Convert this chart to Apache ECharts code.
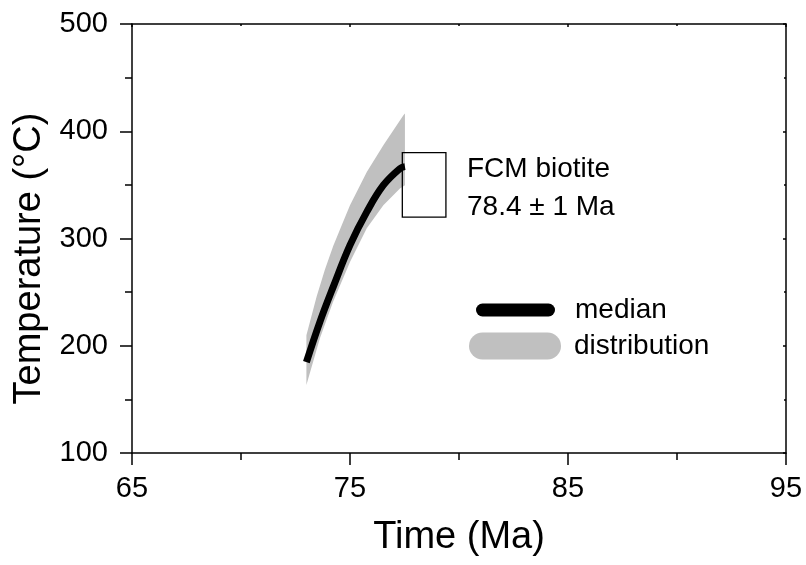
<!DOCTYPE html>
<html><head><meta charset="utf-8">
<script src="https://cdn.jsdelivr.net/npm/echarts@6/dist/echarts.min.js"></script>
<style>html,body{margin:0;padding:0;background:#fff}#c{width:806px;height:565px}</style>
</head><body><div id="c"></div>
<script>
// ---- data ----
const xTickValues = [65, 75, 85, 95];
const yTickValues = [100, 200, 300, 400, 500];

// upper edge of the distribution band
const upperTime = [73.0, 73.47, 73.85, 74.23, 74.62, 75.0, 75.77, 76.53, 77.45, 77.52];
const upperTemp = [209.9, 246.0, 271.0, 293.0, 312.4, 331.0, 362.1, 387.0, 414.9, 416.5];
// lower edge of the distribution band
const lowerTime = [73.0, 73.62, 74.22, 75.0, 75.77, 76.53, 77.29, 77.52];
const lowerTemp = [163.3, 207.1, 240.9, 278.2, 309.6, 331.0, 346.6, 349.7];
// median path
const medianTime = [73.0, 73.62, 74.23, 75.0, 75.77, 76.53, 77.29, 77.52];
const medianTemp = [184.7, 222.3, 254.9, 293.8, 324.8, 349.7, 365.2, 367.0];
// FCM biotite constraint box: [tMin, tMax, TMin, TMax]
const boxConstraint = [77.4, 79.4, 320, 380];
const boxText = ['FCM biotite', '78.4 \u00b1 1 Ma'];

const FONT = 'Liberation Sans, Arial, Helvetica, sans-serif';

const bandData = upperTime.map((t, i) => [t, upperTemp[i]])
  .concat(lowerTime.map((t, i) => [t, lowerTemp[i]]).reverse());
const medianData = medianTime.map((t, i) => [t, medianTemp[i]]);

const chart = echarts.init(document.getElementById('c'), null, {renderer: 'canvas'});

const medianIcon = 'path://M6.5,0 L72.5,0 A6.5,6.5 0 0 1 72.5,13 L6.5,13 A6.5,6.5 0 0 1 6.5,0 Z';
const distIcon = 'path://M13.5,0 L78.5,0 A13.5,13.5 0 0 1 78.5,27 L13.5,27 A13.5,13.5 0 0 1 13.5,0 Z';

const axisLineStyle = {color: '#000', width: 1.5};

const option = {
  animation: false,
  backgroundColor: '#fff',
  grid: {left: 132, top: 24, width: 654, height: 429, containLabel: false},
  xAxis: [{
    type: 'value', position: 'bottom',
    min: xTickValues[0], max: xTickValues[xTickValues.length - 1], interval: 10,
    axisLine: {show: true, onZero: false, lineStyle: axisLineStyle},
    axisTick: {show: true, inside: false, length: 12, lineStyle: axisLineStyle},
    minorTick: {show: true, splitNumber: 2, length: 7, lineStyle: axisLineStyle},
    splitLine: {show: false}, minorSplitLine: {show: false},
    axisLabel: {fontSize: 29, fontFamily: FONT, color: '#000', margin: 21},
    name: 'Time (Ma)', nameLocation: 'middle', nameGap: 66,
    nameTextStyle: {fontSize: 38, fontFamily: FONT, color: '#000'}
  }, {
    type: 'value', position: 'top',
    min: xTickValues[0], max: xTickValues[xTickValues.length - 1], interval: 10,
    axisLine: {show: true, onZero: false, lineStyle: axisLineStyle},
    axisTick: {show: true, inside: true, length: 3, lineStyle: axisLineStyle},
    minorTick: {show: true, splitNumber: 2, length: 2, lineStyle: axisLineStyle},
    splitLine: {show: false}, axisLabel: {show: false}
  }],
  yAxis: [{
    type: 'value', position: 'left',
    min: yTickValues[0], max: yTickValues[yTickValues.length - 1], interval: 100,
    axisLine: {show: true, onZero: false, lineStyle: axisLineStyle},
    axisTick: {show: true, inside: false, length: 12, lineStyle: axisLineStyle},
    minorTick: {show: true, splitNumber: 2, length: 7, lineStyle: axisLineStyle},
    splitLine: {show: false}, minorSplitLine: {show: false},
    axisLabel: {fontSize: 29, fontFamily: FONT, color: '#000', margin: 24},
    name: 'Temperature (\u00b0C)', nameLocation: 'middle', nameGap: 80, nameRotate: 90,
    nameTextStyle: {fontSize: 38, fontFamily: FONT, color: '#000', padding: [0, 40, 0, 0]}
  }, {
    type: 'value', position: 'right',
    min: yTickValues[0], max: yTickValues[yTickValues.length - 1], interval: 100,
    axisLine: {show: true, onZero: false, lineStyle: axisLineStyle},
    axisTick: {show: true, inside: true, length: 3, lineStyle: axisLineStyle},
    minorTick: {show: true, splitNumber: 2, length: 2, lineStyle: axisLineStyle},
    splitLine: {show: false}, axisLabel: {show: false}
  }],
  legend: [{
    data: [{name: 'median', icon: medianIcon, itemStyle: {color: '#000', borderWidth: 0}}],
    left: 476, top: 296, padding: 0, itemWidth: 79, itemHeight: 13, selectedMode: false,
    textStyle: {fontSize: 28, fontFamily: FONT, color: '#000', padding: [0, 0, 0, 15]}
  }, {
    data: [{name: 'distribution', icon: distIcon, itemStyle: {color: '#c0c0c0', borderWidth: 0}}],
    left: 469, top: 332, padding: 0, itemWidth: 92, itemHeight: 27, selectedMode: false,
    textStyle: {fontSize: 28, fontFamily: FONT, color: '#000', padding: [0, 0, 0, 8]}
  }],
  series: [{
    name: 'distribution', type: 'custom', xAxisIndex: 0, yAxisIndex: 0,
    itemStyle: {color: '#c0c0c0'},
    data: bandData,
    renderItem: function (params, api) {
      if (params.dataIndex !== 0) return null;
      const pts = bandData.map(p => api.coord(p));
      return {type: 'polygon', shape: {points: pts}, style: {fill: '#c0c0c0', stroke: null}};
    }
  }, {
    name: 'median', type: 'line', xAxisIndex: 0, yAxisIndex: 0,
    data: medianData, smooth: 0.4, showSymbol: false, symbol: 'none',
    itemStyle: {color: '#000'},
    lineStyle: {color: '#000', width: 7, cap: 'butt'}
  }, {
    name: 'box', type: 'custom', xAxisIndex: 0, yAxisIndex: 0,
    data: [boxConstraint],
    renderItem: function (params, api) {
      const p0 = api.coord([api.value(0), api.value(3)]);
      const p1 = api.coord([api.value(1), api.value(2)]);
      return {type: 'rect', shape: {x: p0[0], y: p0[1], width: p1[0] - p0[0], height: p1[1] - p0[1]},
        style: {fill: null, stroke: '#000', lineWidth: 1.3}};
    }
  }],
  graphic: [
    {type: 'text', left: 467, top: 155, style: {text: boxText[0], font: '28px ' + FONT, fill: '#000'}},
    {type: 'text', left: 467, top: 193, style: {text: boxText[1], font: '28px ' + FONT, fill: '#000'}}
  ]
};
chart.setOption(option);
</script>
</body></html>
